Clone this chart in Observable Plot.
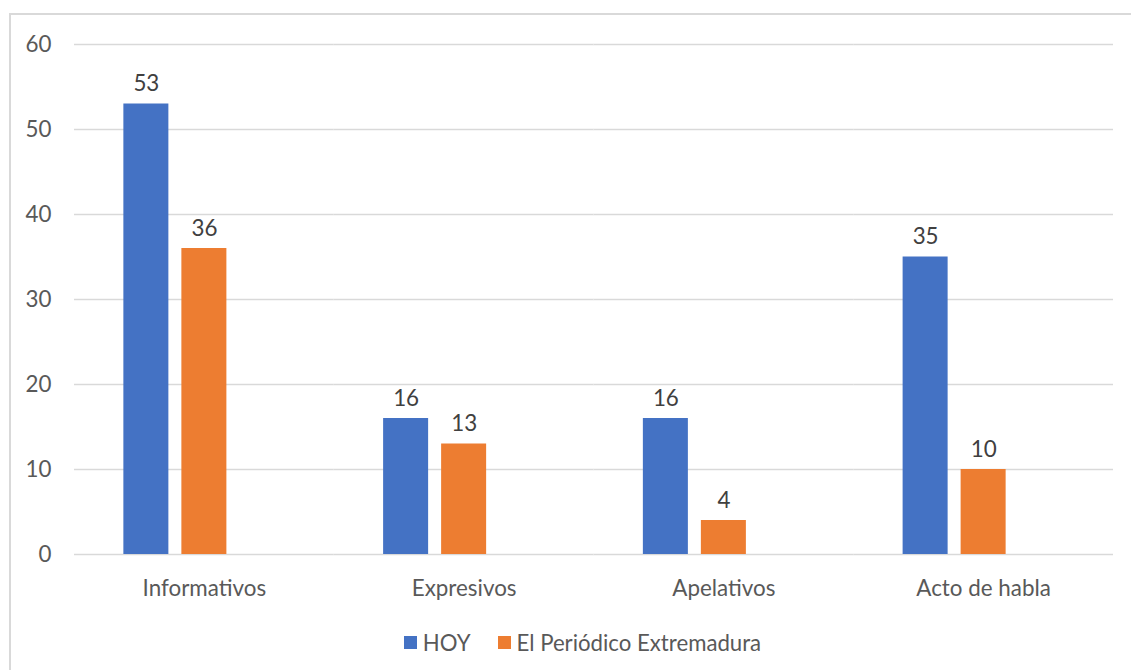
<!DOCTYPE html>
<html>
<head>
<meta charset="utf-8">
<script src="https://cdn.jsdelivr.net/npm/d3@7"></script>
<script src="https://cdn.jsdelivr.net/npm/@observablehq/plot@0.6"></script>
<style>
  html, body { margin: 0; padding: 0; background: #fff; }
  #wrap { position: relative; width: 1131px; height: 670px; overflow: hidden; font-family: Lato, "Noto Sans", sans-serif; }
  #frame { position: absolute; left: 9px; top: 13px; right: -4px; bottom: -4px; border-top: 2px solid #d9d9d9; border-left: 2px solid #d9d9d9; }
  #chart { position: absolute; left: 0; top: 0; }
  #legend { position: absolute; left: 0; width: 1131px; top: 629px; display: flex; justify-content: center; gap: 27px; font-size: 22.2px; color: #595959; padding-left: 34px; box-sizing: border-box; }
  #legend .item { display: flex; align-items: center; gap: 6px; }
  #legend .sw { width: 13px; height: 13px; display: inline-block; }
</style>
</head>
<body>
<div id="wrap">
  <div id="frame"></div>
  <div id="chart"></div>
  <div id="legend"></div>
</div>
<script>
const categories = ["Informativos", "Expresivos", "Apelativos", "Acto de habla"];
const series = ["HOY", "El Periódico Extremadura"];
const hoy = [53, 16, 16, 35];
const periodico = [36, 13, 4, 10];
const yTicks = [0, 10, 20, 30, 40, 50, 60];
const colors = ["#4472C4", "#ED7D31"];

const table = categories.flatMap((category, i) => [
  {category, series: series[0], value: hoy[i]},
  {category, series: series[1], value: periodico[i]}
]);

// each group keeps a third, empty slot so the pair sits left of the category centre
const slots = [...series, "·"];

const chart = Plot.plot({
  width: 1131,
  height: 610,
  marginLeft: 74,
  marginRight: 18,
  marginTop: 44,
  marginBottom: 56,
  style: {fontFamily: "Lato, 'Noto Sans', sans-serif", fontSize: "22.4px", color: "#595959", background: "transparent"},
  fx: {domain: categories, padding: 0, round: false, axis: "bottom", tickSize: 0, tickPadding: 26, label: null},
  x: {domain: slots, paddingInner: 13 / 58, paddingOuter: 0.851, round: false, axis: null},
  y: {domain: [0, 60], ticks: yTicks, tickSize: 0, tickPadding: 23, label: null},
  color: {domain: series, range: colors},
  marks: [
    Plot.ruleY(yTicks, {stroke: "#d9d9d9", strokeWidth: 1.6}),
    Plot.barY(table, {fx: "category", x: "series", y: "value", fill: "series", inset: 0}),
    Plot.text(table, {fx: "category", x: "series", y: "value", text: d => String(d.value), dy: -20, fill: "#404040", fontSize: 22.4})
  ]
});
document.getElementById("chart").appendChild(chart);

const legend = document.getElementById("legend");
series.forEach((s, i) => {
  const item = document.createElement("div");
  item.className = "item";
  const sw = document.createElement("span");
  sw.className = "sw";
  sw.style.background = colors[i];
  const label = document.createElement("span");
  label.textContent = s;
  item.append(sw, label);
  legend.append(item);
});
</script>
</body>
</html>
